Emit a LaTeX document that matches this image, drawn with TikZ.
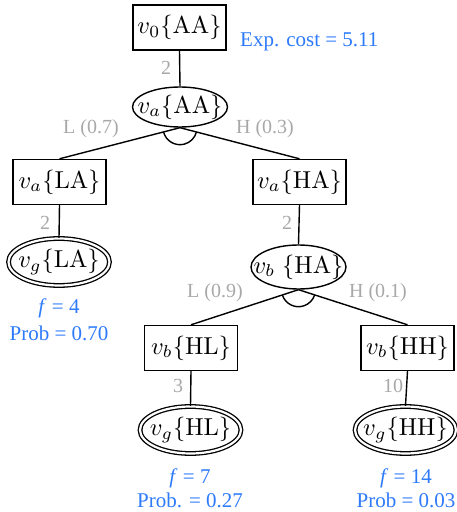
\documentclass[tikz,border=0pt]{standalone}
\usepackage{fontspec}
\newfontfamily\tnr{Liberation Serif}
\usetikzlibrary{shapes.geometric}
\definecolor{infoblue}{RGB}{45,122,250}
\definecolor{costgray}{RGB}{168,168,168}
% node captions: Computer Modern math, enlarged
\newcommand\capt[1]{\scalebox{2.45}{$#1$}}
% same caption, taking no width, so an ellipse keeps its set size
\newcommand\ecapt[1]{\makebox[0pt]{\capt{#1}}}
\tikzset{
  x=1pt, y=1pt,
  statebox/.style={draw, line width=1.4pt, rectangle, minimum width=93pt, minimum height=45pt, inner sep=0pt},
  chance/.style={draw, line width=1.4pt, ellipse, minimum width=95pt, minimum height=40pt, inner sep=0pt},
  goal/.style={draw, ellipse, line width=1.3pt, double, double distance=2.2pt, minimum width=101pt, minimum height=47pt, inner sep=0pt},
  edge/.style={line width=1.4pt},
  costlbl/.style={text=costgray, font=\tnr\fontsize{20}{24}\selectfont, inner sep=0pt},
  infolbl/.style={text=infoblue, font=\tnr\fontsize{21}{25}\selectfont, inner sep=0pt, align=center},
}
\begin{document}
\begin{tikzpicture}
\useasboundingbox (0,0) rectangle (457,512);

% states and outcome nodes
\node[statebox] (v0)   at (179.5,484.5) {\capt{v_0\{\mathrm{AA}\}}};
\node[chance]   (vaAA) at (180,405)     {\ecapt{v_a\{\mathrm{AA}\}}};
\node[statebox] (vaLA) at (59.5,330)    {\capt{v_a\{\mathrm{LA}\}}};
\node[statebox] (vaHA) at (299.5,330)   {\capt{v_a\{\mathrm{HA}\}}};
\node[goal]     (vgLA) at (59,250)      {\ecapt{v_g\{\mathrm{LA}\}}};
\node[chance, minimum height=44pt] (vbHA) at (298.5,245) {\ecapt{v_b\;\{\mathrm{HA}\}}};
\node[statebox] (vbHL) at (191,164)     {\capt{v_b\{\mathrm{HL}\}}};
\node[statebox] (vbHH) at (407.5,164)   {\capt{v_b\{\mathrm{HH}\}}};
\node[goal]     (vgHL) at (190.5,82)    {\ecapt{v_g\{\mathrm{HL}\}}};
\node[goal]     (vgHH) at (405.5,82)    {\ecapt{v_g\{\mathrm{HH}\}}};

% connectors
\draw[edge] (v0.south) -- (vaAA.north);
\draw[edge] (vaAA.south) -- (vaLA.north);
\draw[edge] (vaAA.south) -- (vaHA.north);
\draw[edge] (vaLA.south) -- (vgLA.north);
\draw[edge] (vaHA.south) -- (vbHA.north);
\draw[edge] (vbHA.south) -- (vbHL.north);
\draw[edge] (vbHA.south) -- (vbHH.north);
\draw[edge] (vbHL.south) -- (vgHL.north);
\draw[edge] (vbHH.south) -- (vgHH.north);

% AND arcs joining the outcome branches
\draw[edge] ([shift={(194.5:17)}]vaAA.south) arc[start angle=194.5, end angle=345.5, radius=17];
\draw[edge] ([shift={(198:17)}]vbHA.south) arc[start angle=198, end angle=342, radius=17];

% action costs and outcome probabilities
\node[costlbl] (c0)  at (166,444) {2};
\node[costlbl] (pL1) at (91,383)  {L (0.7)};
\node[costlbl] (pH1) at (265,383) {H (0.3)};
\node[costlbl] (c1)  at (45,289)  {2};
\node[costlbl] (c2)  at (287,289) {2};
\node[costlbl] (pL2) at (215,219) {L (0.9)};
\node[costlbl] (pH2) at (378,219) {H (0.1)};
\node[costlbl] (c3)  at (178,126) {3};
\node[costlbl] (c4)  at (393,126) {10};

% summary annotations
\node[infolbl, anchor=west] (cost) at (240,470) {Exp. cost = 5.11};
\node[infolbl] (fLA) at (59,204)  {\textit{f} = 4};
\node[infolbl] (pLA) at (59,179)  {Prob = 0.70};
\node[infolbl] (fHL) at (190,34)  {\textit{f} = 7};
\node[infolbl] (pHL) at (190,12)  {Prob. = 0.27};
\node[infolbl] (fHH) at (406,34)  {\textit{f} = 14};
\node[infolbl] (pHH) at (406,12)  {Prob = 0.03};
\end{tikzpicture}
\end{document}
